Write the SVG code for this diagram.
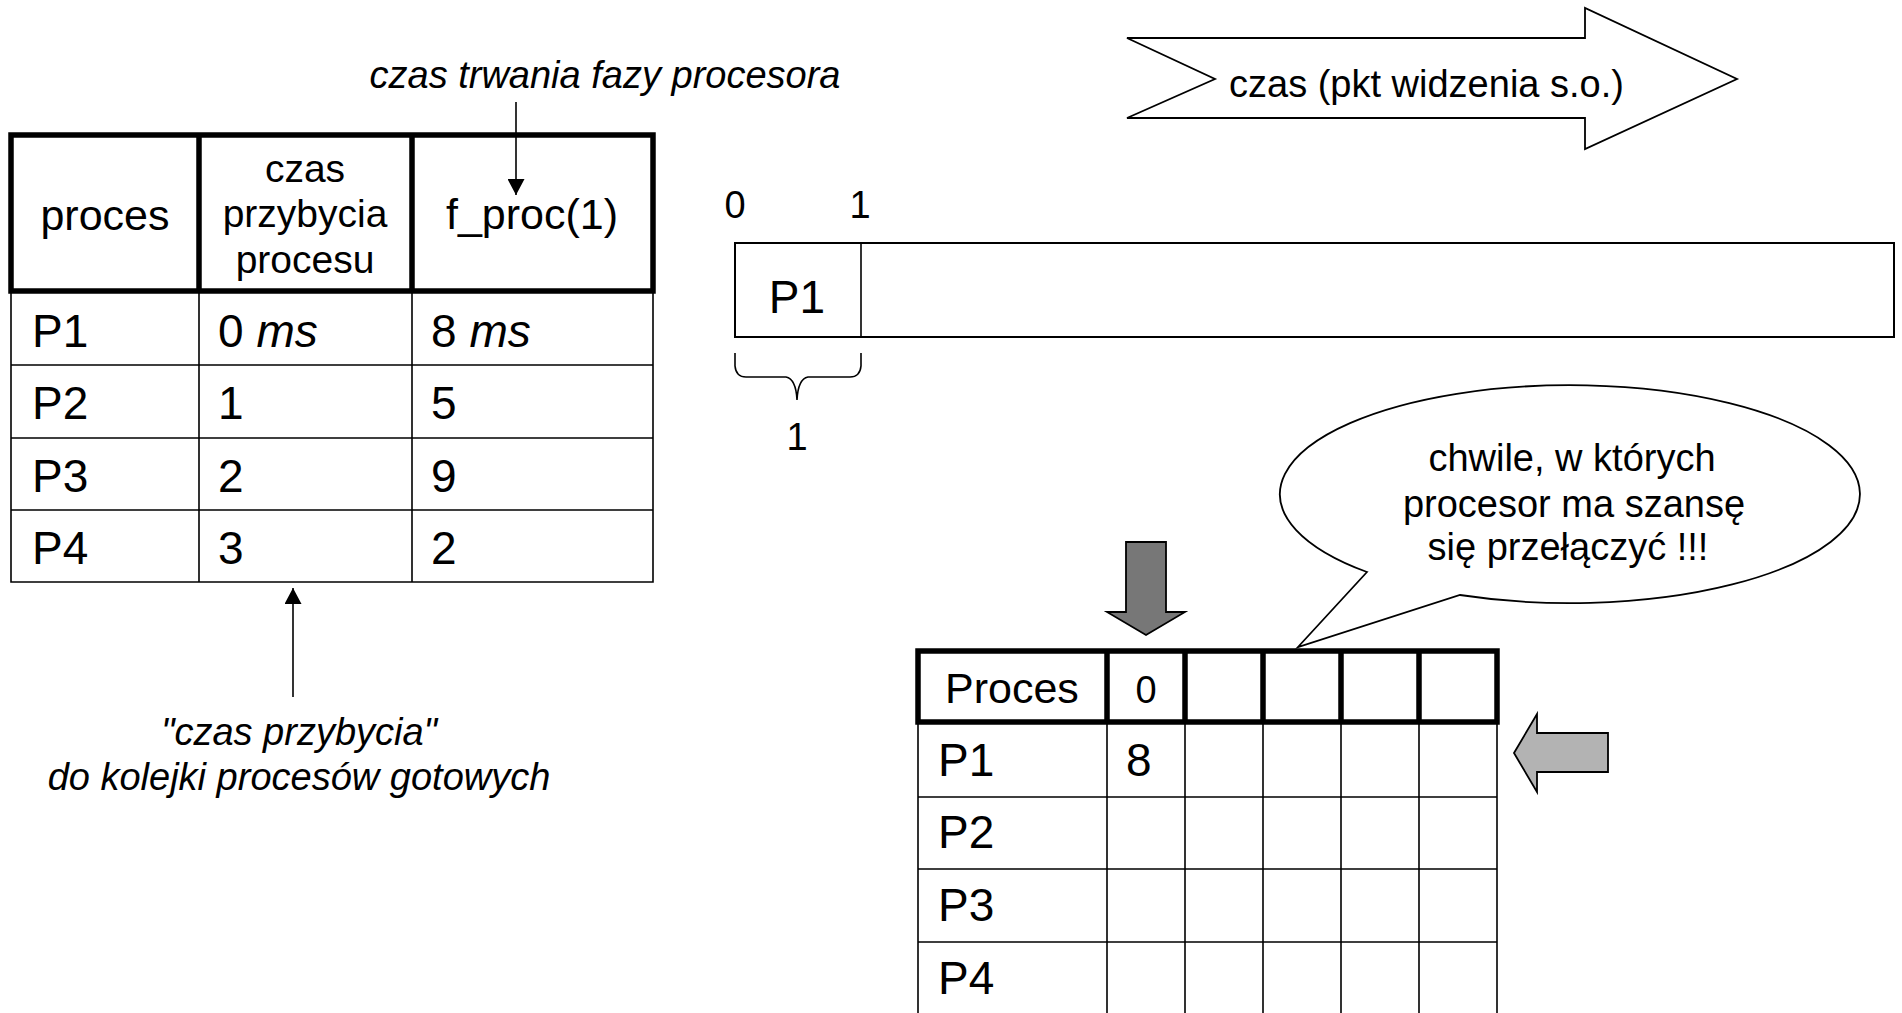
<svg xmlns="http://www.w3.org/2000/svg" width="1902" height="1013" viewBox="0 0 1902 1013">
  <defs>
    <marker id="head" viewBox="0 0 16 17" refX="16" refY="8.5" markerWidth="16" markerHeight="17" markerUnits="userSpaceOnUse" orient="auto">
      <path d="M0,0 L16,8.5 L0,17 Z" fill="#000"/>
    </marker>
    <style>
      text { font-family: "Liberation Sans", Arial, sans-serif; fill: #000; }
      .it { font-style: italic; font-size: 38px; }
      .hdr { font-size: 43px; }
      .hdr2 { font-size: 39px; }
      .cell { font-size: 46px; }
      .lbl { font-size: 38px; }
      .thick { fill: none; stroke: #000; stroke-width: 5.5; }
      .thin { fill: none; stroke: #000; stroke-width: 1.6; }
      .conn { fill: none; stroke: #000; stroke-width: 1.6; }
      .shape { stroke: #000; stroke-width: 1.8; stroke-linejoin: miter; }
    </style>
  </defs>
  <rect width="1902" height="1013" fill="#fff"/>

  <!-- process table: arrival and burst times -->
  <g id="process-table">
    <path class="thin" d="M11,291 V582 H653 V291 M199,291 V582 M412,291 V582 M11,365 H653 M11,438 H653 M11,510 H653"/>
    <rect class="thick" x="11" y="135" width="642" height="156"/>
    <path class="thick" d="M199,135 V291 M412,135 V291"/>
    <text class="hdr" x="105" y="230" text-anchor="middle">proces</text>
    <text class="hdr2" x="305" y="182" text-anchor="middle">czas</text>
    <text class="hdr2" x="305" y="227" text-anchor="middle">przybycia</text>
    <text class="hdr2" x="305" y="273" text-anchor="middle">procesu</text>
    <text class="hdr" x="532" y="229" text-anchor="middle">f_proc(1)</text>
    <text class="cell" x="32" y="347">P1</text>
    <text class="cell" x="218" y="347">0 <tspan font-style="italic">ms</tspan></text>
    <text class="cell" x="431" y="347">8 <tspan font-style="italic">ms</tspan></text>
    <text class="cell" x="32" y="419">P2</text>
    <text class="cell" x="218" y="419">1</text>
    <text class="cell" x="431" y="419">5</text>
    <text class="cell" x="32" y="492">P3</text>
    <text class="cell" x="218" y="492">2</text>
    <text class="cell" x="431" y="492">9</text>
    <text class="cell" x="32" y="564">P4</text>
    <text class="cell" x="218" y="564">3</text>
    <text class="cell" x="431" y="564">2</text>
  </g>

  <!-- annotations -->
  <g id="note-burst">
    <text class="it" x="605" y="88" text-anchor="middle">czas trwania fazy procesora</text>
  </g>
  <g id="note-arrival">
    <text class="it" x="299" y="745" text-anchor="middle">"czas przybycia"</text>
    <text class="it" x="299" y="790" text-anchor="middle">do kolejki procesów gotowych</text>
  </g>

  <!-- time direction arrow -->
  <g id="time-arrow">
    <polygon class="shape" fill="#fff" points="1127,38 1215,79 1127,118 1585,118 1585,149 1737,79 1585,8 1585,38"/>
    <text class="lbl" x="1229" y="97">czas (pkt widzenia s.o.)</text>
  </g>

  <!-- Gantt timeline -->
  <g id="timeline">
    <text class="lbl" x="735" y="218" text-anchor="middle" font-size="42">0</text>
    <text class="lbl" x="860" y="218" text-anchor="middle" font-size="42">1</text>
    <rect x="735" y="243" width="1159" height="94" fill="#fff" stroke="#000" stroke-width="2"/>
    <line x1="861" y1="243" x2="861" y2="337" stroke="#000" stroke-width="1.6"/>
    <text class="cell" x="797" y="313" text-anchor="middle">P1</text>
    <path class="thin" d="M735,353 L735,366 Q736,377 746,377 L786,377 Q796,379 797,400 Q798,379 808,377 L850,377 Q860,377 861,366 L861,353"/>
    <text class="lbl" x="797" y="450" text-anchor="middle" font-size="42">1</text>
  </g>

  <!-- speech bubble -->
  <g id="bubble">
    <path class="shape" fill="#fff" d="M1367,572 L1298,647 L1460,595 A290,109 0 1,0 1367,572 Z"/>
    <text class="lbl" x="1572" y="471" text-anchor="middle">chwile, w których</text>
    <text class="lbl" x="1574" y="517" text-anchor="middle">procesor ma szansę</text>
    <text class="lbl" x="1568" y="560" text-anchor="middle">się przełączyć !!!</text>
  </g>

  <!-- remaining-time table -->
  <g id="remaining-table">
    <path class="thin" d="M918,722 V1013 M1107,722 V1013 M1185,722 V1013 M1263,722 V1013 M1341,722 V1013 M1419,722 V1013 M1497,722 V1013 M918,797 H1497 M918,869 H1497 M918,942 H1497"/>
    <rect class="thick" x="918" y="651" width="579" height="71"/>
    <path class="thick" d="M1107,651 V722 M1185,651 V722 M1263,651 V722 M1341,651 V722 M1419,651 V722"/>
    <text class="hdr" x="945" y="703">Proces</text>
    <text class="lbl" x="1146" y="703" text-anchor="middle">0</text>
    <text class="cell" x="938" y="776">P1</text>
    <text class="cell" x="1126" y="776">8</text>
    <text class="cell" x="938" y="848">P2</text>
    <text class="cell" x="938" y="921">P3</text>
    <text class="cell" x="938" y="994">P4</text>
  </g>

  <!-- block arrows pointing at the table -->
  <g id="column-pointer">
    <polygon class="shape" fill="#777" points="1126,542 1166,542 1166,612 1185,612 1146,635 1107,612 1126,612"/>
  </g>
  <g id="row-pointer">
    <polygon class="shape" fill="#b3b3b3" points="1514,753 1537,714 1537,733 1608,733 1608,772 1537,772 1537,792"/>
  </g>

  <!-- connectors -->
  <g id="connectors">
    <line class="conn" x1="516" y1="102" x2="516" y2="195" marker-end="url(#head)"/>
    <line class="conn" x1="293" y1="697" x2="293" y2="588" marker-end="url(#head)"/>
  </g>
</svg>
